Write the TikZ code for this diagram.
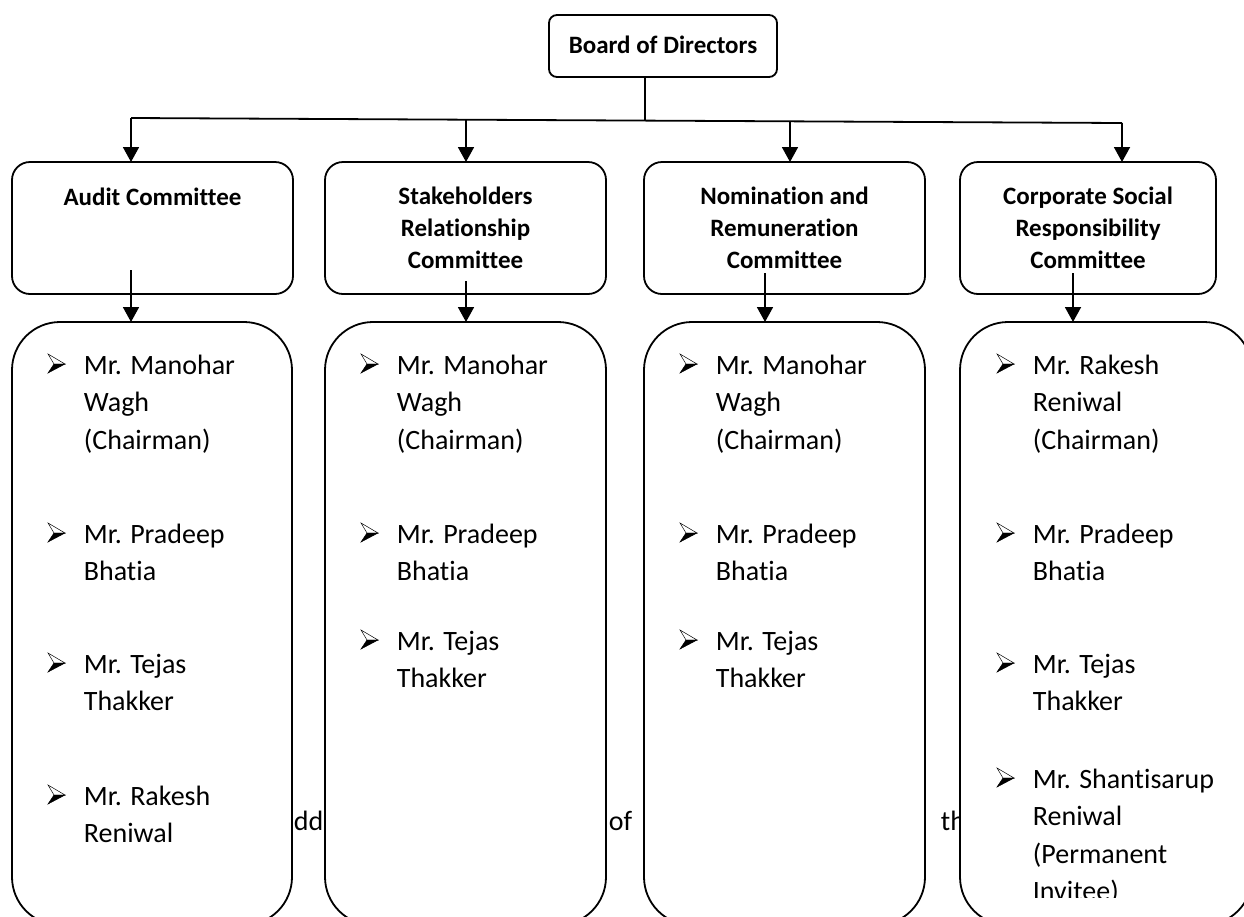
\documentclass[tikz,border=0pt]{standalone}
\usepackage{fontspec}
\setmainfont{Carlito}[Ligatures=NoCommon]
\usetikzlibrary{arrows.meta}
\begin{document}
\begin{tikzpicture}[x=1pt,y=-1pt,line width=1.8pt,
  boardbox/.style={draw,fill=white,rounded corners=8pt,minimum width=228pt,minimum height=62pt,inner sep=0pt,outer sep=0pt},
  combox/.style={draw,fill=white,rounded corners=18pt,minimum height=132pt,inner sep=0pt,outer sep=0pt},
  membox/.style={draw,fill=white,rounded corners=48pt,minimum height=603pt,inner sep=0pt,outer sep=0pt},
  btext/.style={font=\fontsize{25}{32}\selectfont\bfseries,inner sep=0pt,anchor=base},
  mtext/.style={font=\fontsize{28}{38}\selectfont,inner sep=0pt,anchor=base west},
  arr/.style={-{Triangle[width=16pt,length=15pt]}},
  arrowbullet/.pic={
    \draw[line width=0.5pt,fill=white] (0,-20) -- (17,-10) -- (6,-10) -- cycle;
    \fill[black] (6,-10) -- (17,-10) -- (0,-1) -- cycle;
    \draw[line width=0.5pt] (6,-10) -- (17,-10) -- (0,-1) -- cycle;
  }]
\clip (0,0) rectangle (1244,916);
\fill[white] (0,0) rectangle (1244,916);

% stray background text, partly hidden by the boxes
\node[mtext] (s1) at (293,830) {dda};
\node[mtext] (s2) at (608,830) {of};
\node[mtext] (s3) at (940,830) {th};

% board
\node[boardbox] (board) at (663,46) {};
\node[btext] (boardt) at (663,53) {Board of Directors};

% committee boxes
\node[combox,minimum width=281pt] (c1) at (152.5,228) {};
\node[combox,minimum width=281pt] (c2) at (465.5,228) {};
\node[combox,minimum width=281pt] (c3) at (784.5,228) {};
\node[combox,minimum width=256pt] (c4) at (1088,228) {};

\node[btext] (c1a) at (152.5,205) {Audit Committee};
\node[btext] (c2a) at (465.5,204) {Stakeholders};
\node[btext] (c2b) at (465.5,236) {Relationship};
\node[btext] (c2c) at (465.5,268) {Committee};
\node[btext] (c3a) at (784.5,204) {Nomination and};
\node[btext] (c3b) at (784.5,236) {Remuneration};
\node[btext] (c3c) at (784.5,268) {Committee};
\node[btext] (c4a) at (1088,204) {Corporate Social};
\node[btext] (c4b) at (1088,236) {Responsibility};
\node[btext] (c4c) at (1088,268) {Committee};

% member boxes
\node[membox,minimum width=280pt] (m1) at (152,623.5) {};
\node[membox,minimum width=281pt] (m2) at (465.5,623.5) {};
\node[membox,minimum width=281pt] (m3) at (784.5,623.5) {};
\node[membox,minimum width=292pt] (m4) at (1106,623.5) {};

% connectors from board
\coordinate (bl) at (131,118);
\coordinate (br) at (1122,123);
\coordinate (trunk) at (645,120.6);
\coordinate (b2) at (466,119.7);
\coordinate (b3) at (790,121.3);
\draw (board.south -| trunk) -- (trunk);
\draw (bl) -- (br);
\draw[arr] (bl) -- (bl |- c1.north);
\draw[arr] (b2) -- (b2 |- c2.north);
\draw[arr] (b3) -- (b3 |- c3.north);
\draw[arr] (br) -- (br |- c4.north);

% connectors from committees to members
\coordinate (d1) at (131,270);
\coordinate (d2) at (466,281);
\coordinate (d3) at (765,273);
\coordinate (d4) at (1073,273);
\draw[arr] (d1) -- (d1 |- m1.north);
\draw[arr] (d2) -- (d2 |- m2.north);
\draw[arr] (d3) -- (d3 |- m3.north);
\draw[arr] (d4) -- (d4 |- m4.north);

% column 1
\pic (p11) at (48,374) {arrowbullet};
\node[mtext] (t11a) at (83,374) {Mr. Manohar};
\node[mtext] (t11b) at (83,411.5) {Wagh};
\node[mtext] (t11c) at (83,449) {(Chairman)};
\pic (p12) at (48,543) {arrowbullet};
\node[mtext] (t12a) at (83,543) {Mr. Pradeep};
\node[mtext] (t12b) at (83,580.5) {Bhatia};
\pic (p13) at (48,673) {arrowbullet};
\node[mtext] (t13a) at (83,673) {Mr. Tejas};
\node[mtext] (t13b) at (83,710.5) {Thakker};
\pic (p14) at (48,805) {arrowbullet};
\node[mtext] (t14a) at (83,805) {Mr. Rakesh};
\node[mtext] (t14b) at (83,842.5) {Reniwal};

% column 2
\pic (p21) at (361,374) {arrowbullet};
\node[mtext] (t21a) at (396,374) {Mr. Manohar};
\node[mtext] (t21b) at (396,411.5) {Wagh};
\node[mtext] (t21c) at (396,449) {(Chairman)};
\pic (p22) at (361,543) {arrowbullet};
\node[mtext] (t22a) at (396,543) {Mr. Pradeep};
\node[mtext] (t22b) at (396,580.5) {Bhatia};
\pic (p23) at (361,650) {arrowbullet};
\node[mtext] (t23a) at (396,650) {Mr. Tejas};
\node[mtext] (t23b) at (396,687.5) {Thakker};

% column 3
\pic (p31) at (680,374) {arrowbullet};
\node[mtext] (t31a) at (715,374) {Mr. Manohar};
\node[mtext] (t31b) at (715,411.5) {Wagh};
\node[mtext] (t31c) at (715,449) {(Chairman)};
\pic (p32) at (680,543) {arrowbullet};
\node[mtext] (t32a) at (715,543) {Mr. Pradeep};
\node[mtext] (t32b) at (715,580.5) {Bhatia};
\pic (p33) at (680,650) {arrowbullet};
\node[mtext] (t33a) at (715,650) {Mr. Tejas};
\node[mtext] (t33b) at (715,687.5) {Thakker};

% column 4
\pic (p41) at (997,374) {arrowbullet};
\node[mtext] (t41a) at (1032,374) {Mr. Rakesh};
\node[mtext] (t41b) at (1032,411.5) {Reniwal};
\node[mtext] (t41c) at (1032,449) {(Chairman)};
\pic (p42) at (997,543) {arrowbullet};
\node[mtext] (t42a) at (1032,543) {Mr. Pradeep};
\node[mtext] (t42b) at (1032,580.5) {Bhatia};
\pic (p43) at (997,673) {arrowbullet};
\node[mtext] (t43a) at (1032,673) {Mr. Tejas};
\node[mtext] (t43b) at (1032,710.5) {Thakker};
\begin{scope}
\clip (960,330) rectangle (1244,897);
\pic (p44) at (997,788) {arrowbullet};
\node[mtext] (t44a) at (1032,788) {Mr. Shantisarup};
\node[mtext] (t44b) at (1032,825.5) {Reniwal};
\node[mtext] (t44c) at (1032,863) {(Permanent};
\node[mtext] (t44d) at (1032,900.5) {Invitee)};
\end{scope}
\end{tikzpicture}
\end{document}
